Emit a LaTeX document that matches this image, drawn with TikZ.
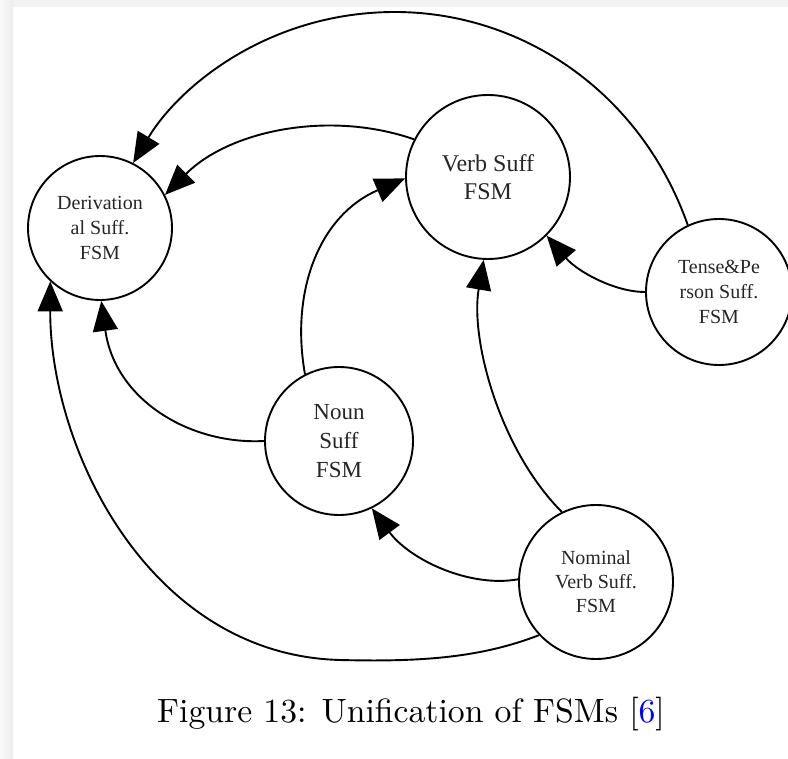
\documentclass[tikz,border=0pt]{standalone}
\usepackage{fontspec}
\usepackage{xcolor}
\usetikzlibrary{arrows.meta}
\newfontfamily\gvfont{Liberation Serif}
\tikzset{
  fsm/.style={draw, circle, line width=1.9pt, inner sep=0pt, align=center,
    font=\gvfont, text=black!85},
  link/.style={line width=1.9pt, -{Triangle[length=30pt,width=25pt]}},
}
\begin{document}
\begin{tikzpicture}[x=1pt,y=-1pt]
  \useasboundingbox (0,0) rectangle (788,759);
  % page frame
  \fill[white] (0,0) rectangle (788,759);
  \fill[gray!10] (0,0) rectangle (788,7);
  \shade[left color=gray!5, right color=gray!14] (0,0) rectangle (13,759);

  % states
  \node[fsm, minimum size=144pt, font=\gvfont\fontsize{20}{25}\selectfont] (D) at (100,228)
    {Derivation\\al Suff.\\FSM};
  \node[fsm, minimum size=164pt, font=\gvfont\fontsize{24}{28}\selectfont] (V) at (488,177)
    {Verb Suff\\FSM};
  \node[fsm, minimum size=146pt, font=\gvfont\fontsize{20}{25}\selectfont] (T) at (719,292)
    {Tense\&Pe\\rson Suff.\\FSM};
  \node[fsm, minimum size=148pt, font=\gvfont\fontsize{23}{29}\selectfont] (N) at (339,441)
    {Noun\\Suff\\FSM};
  \node[fsm, minimum size=154pt, font=\gvfont\fontsize{20}{24}\selectfont] (NV) at (596,582)
    {Nominal\\Verb Suff.\\FSM};

  % transitions
  \draw[link] (T.115) .. controls (640,90) and (520,12) .. (395,12)
    .. controls (270,12) and (180,85) .. (D.63);
  \draw[link] (V.153) .. controls (330,110) and (230,130) .. (D.27);
  \draw[link] (T.180) .. controls (615,292) and (578,272) .. (V.-45);
  \draw[link] (N.117) .. controls (290,290) and (320,215) .. (V.181);
  \draw[link] (N.180) .. controls (190,445) and (115,400) .. (D.-89);
  \draw[link] (NV.116) .. controls (500,450) and (470,340) .. (V.-93);
  \draw[link] (NV.178) .. controls (470,588) and (410,560) .. (N.-64);
  \draw[link] (NV.223) .. controls (480,658) and (420,662) .. (340,660)
    .. controls (150,655) and (50,450) .. (D.227);

  % caption
  \node[anchor=base, inner sep=0pt] (cap) at (411,722)
    {\scalebox{3.37}{Figure 13: Unification of FSMs [\textcolor{blue}{6}]}};
\end{tikzpicture}
\end{document}
